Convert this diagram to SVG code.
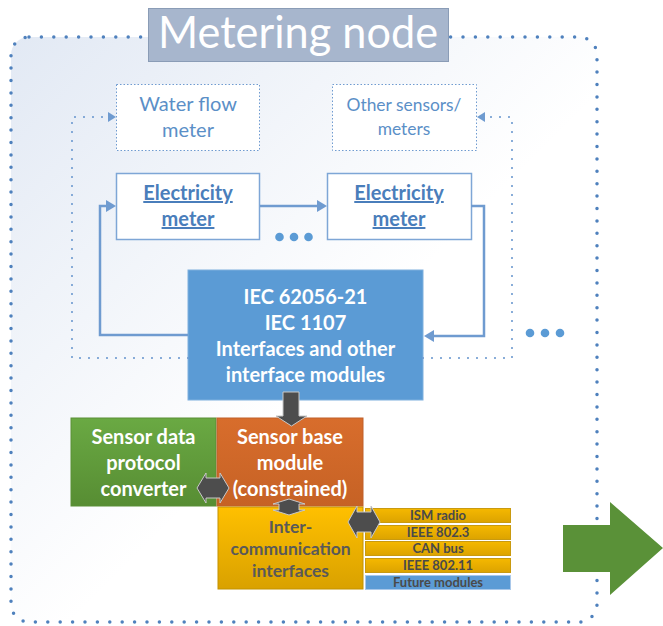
<svg xmlns="http://www.w3.org/2000/svg" width="663" height="626" viewBox="0 0 663 626">
<defs>
<linearGradient id="bg" x1="0" y1="0" x2="1" y2="1">
<stop offset="0" stop-color="#e2e9f4"/>
<stop offset="0.55" stop-color="#ffffff"/>
<stop offset="1" stop-color="#ffffff"/>
</linearGradient>
<linearGradient id="gGreen" x1="0" y1="0" x2="0" y2="1">
<stop offset="0" stop-color="#6aa943"/>
<stop offset="1" stop-color="#578d33"/>
</linearGradient>
<linearGradient id="gOrange" x1="0" y1="0" x2="0" y2="1">
<stop offset="0" stop-color="#d86d2c"/>
<stop offset="1" stop-color="#c66225"/>
</linearGradient>
<linearGradient id="gGold" x1="0" y1="0" x2="0" y2="1">
<stop offset="0" stop-color="#ffc000"/>
<stop offset="1" stop-color="#d9a100"/>
</linearGradient>
<linearGradient id="gRow" x1="0" y1="0" x2="0" y2="1">
<stop offset="0" stop-color="#f5b800"/>
<stop offset="1" stop-color="#dca300"/>
</linearGradient>
</defs>
<style>
.lbl{font-family:Lato,"Liberation Sans",sans-serif;text-anchor:middle}
.meter{fill:#ffffff;stroke:#7ea6d6;stroke-width:1.5}
.mtxt{font-size:20px;font-weight:bold;fill:#4a7ebb;text-decoration:underline}
.sens{fill:#ffffff;stroke:#6f9bd0;stroke-width:1;stroke-dasharray:1.5 2}
.stxt{fill:#5b8fc7}
.wtxt{font-weight:bold;fill:#ffffff;font-size:20px}
.row{fill:url(#gRow);stroke:#c99a10;stroke-width:1}
.rtxt{font-size:13px;font-weight:bold;fill:#4a4a4a}
.dbl{fill:#4d4d4d;stroke:#c8c8c8;stroke-width:1}
.solid{fill:none;stroke:#6f9bd0;stroke-width:2.5}
.dot{fill:none;stroke:#6f9bd0;stroke-width:2.2;stroke-linecap:round;stroke-dasharray:0 9}
.head{fill:#6f9bd0}
</style>

<g id="outer">
<rect x="11" y="37" width="586" height="585" rx="18" fill="url(#bg)"/>
<rect x="11" y="37" width="586" height="585" rx="18" fill="none" stroke="#4f81bd" stroke-width="3.5" stroke-linecap="round" stroke-dasharray="0 12.4"/>
</g>

<g id="title">
<rect x="148.5" y="8.5" width="300" height="53" fill="#a7b6cd" stroke="#8a9cb6" stroke-width="1"/>
<text class="lbl" x="298" y="48" font-size="45" fill="#ffffff" textLength="280" lengthAdjust="spacingAndGlyphs">Metering node</text>
</g>

<g id="ellipsis1" fill="#5b9bd5">
<circle cx="279.5" cy="237" r="4.3"/>
<circle cx="294" cy="237" r="4.3"/>
<circle cx="308.5" cy="237" r="4.3"/>
</g>
<g id="ellipsis2" fill="#5b9bd5">
<circle cx="530" cy="333" r="4.3"/>
<circle cx="545" cy="333" r="4.3"/>
<circle cx="560" cy="333" r="4.3"/>
</g>

<g id="water-flow-meter">
<rect class="sens" x="116.5" y="84.5" width="143" height="66"/>
<text class="lbl stxt" x="188" y="111" font-size="20">Water flow</text>
<text class="lbl stxt" x="188" y="137" font-size="20">meter</text>
</g>

<g id="other-sensors">
<rect class="sens" x="332.5" y="84.5" width="144" height="66"/>
<text class="lbl stxt" x="404" y="111" font-size="17.4">Other sensors/</text>
<text class="lbl stxt" x="404" y="135" font-size="17.4">meters</text>
</g>

<g id="electricity-meter-1">
<rect class="meter" x="116.5" y="173.5" width="143" height="66"/>
<text class="lbl mtxt" x="188" y="200">Electricity</text>
<text class="lbl mtxt" x="188" y="226">meter</text>
</g>

<g id="electricity-meter-2">
<rect class="meter" x="327.5" y="173.5" width="144" height="66"/>
<text class="lbl mtxt" x="399" y="200">Electricity</text>
<text class="lbl mtxt" x="399" y="226">meter</text>
</g>

<g id="iec-interfaces">
<rect x="188" y="270" width="235" height="130" fill="#5b9bd5" stroke="#7fb0de" stroke-width="1"/>
<text class="lbl wtxt" x="305.5" y="304">IEC 62056-21</text>
<text class="lbl wtxt" x="305.5" y="330">IEC 1107</text>
<text class="lbl wtxt" x="305.5" y="356">Interfaces and other</text>
<text class="lbl wtxt" x="305.5" y="382">interface modules</text>
</g>

<g id="sensor-data-protocol-converter">
<rect x="71" y="418" width="145" height="88" fill="url(#gGreen)" stroke="#5a8f37" stroke-width="1"/>
<text class="lbl wtxt" x="143.5" y="444">Sensor data</text>
<text class="lbl wtxt" x="143.5" y="470">protocol</text>
<text class="lbl wtxt" x="143.5" y="496">converter</text>
</g>

<g id="sensor-base-module">
<rect x="217" y="418" width="146" height="88" fill="url(#gOrange)" stroke="#c0612a" stroke-width="1"/>
<text class="lbl wtxt" x="290" y="444">Sensor base</text>
<text class="lbl wtxt" x="290" y="470">module</text>
<text class="lbl wtxt" x="290" y="496">(constrained)</text>
</g>

<g id="inter-communication-interfaces">
<rect x="218" y="507" width="145" height="82" fill="url(#gGold)" stroke="#c39200" stroke-width="1"/>
<text class="lbl" x="290.5" y="533" font-size="17.5" font-weight="bold" fill="#595959">Inter-</text>
<text class="lbl" x="290.5" y="555" font-size="17.5" font-weight="bold" fill="#595959">communication</text>
<text class="lbl" x="290.5" y="577" font-size="17.5" font-weight="bold" fill="#595959">interfaces</text>
</g>

<g id="ism-radio">
<rect class="row" x="365.5" y="508.5" width="145" height="14"/>
<text class="lbl rtxt" x="438" y="520">ISM radio</text>
</g>
<g id="ieee-802-3">
<rect class="row" x="365.5" y="525.5" width="145" height="14"/>
<text class="lbl rtxt" x="438" y="537">IEEE 802.3</text>
</g>
<g id="can-bus">
<rect class="row" x="365.5" y="541.5" width="145" height="14"/>
<text class="lbl rtxt" x="438" y="553">CAN bus</text>
</g>
<g id="ieee-802-11">
<rect class="row" x="365.5" y="558.5" width="145" height="14"/>
<text class="lbl rtxt" x="438" y="570">IEEE 802.11</text>
</g>
<g id="future-modules">
<rect x="365.5" y="575.5" width="145" height="14" fill="#5b9bd5" stroke="#a9c8ea" stroke-width="1"/>
<text class="lbl rtxt" x="438" y="587">Future modules</text>
</g>

<g id="output-arrow">
<polygon points="563,525 610,525 610,502 663,548 610,595 610,572 563,572" fill="#5a9138"/>
</g>

<g id="connectors">
<path class="dot" d="M188,358 L72,358 L72,117 L108,117"/>
<path class="head" d="M108,112 L116,117 L108,122 Z"/>
<path class="dot" d="M423,358 L512,358 L512,117 L485,117"/>
<path class="head" d="M485,112 L477,117 L485,122 Z"/>
<path class="solid" d="M260,206 L318,206"/>
<path class="head" d="M317,200 L327,206 L317,212 Z"/>
<path class="solid" d="M471,206 L484,206 L484,336 L433,336"/>
<path class="head" d="M434,330 L424,336 L434,342 Z"/>
<path class="solid" d="M188,335 L100,335 L100,206 L107,206"/>
<path class="head" d="M106,200 L116,206 L106,212 Z"/>
<polygon class="dbl" points="283,392 299,392 299,416 307,416 291.5,426 276,416 283,416"/>
<polygon class="dbl" points="197,488 206,473 206,478 220,478 220,473 229,488 220,503 220,498 206,498 206,503"/>
<polygon class="dbl" points="289,499 305,504 299,504 299,510 305,510 289,515 273,510 279,510 279,504 273,504"/>
<polygon class="dbl" points="348,522 357,506 357,512 371,512 371,506 380,522 371,538 371,532 357,532 357,538"/>
</g>
</svg>
